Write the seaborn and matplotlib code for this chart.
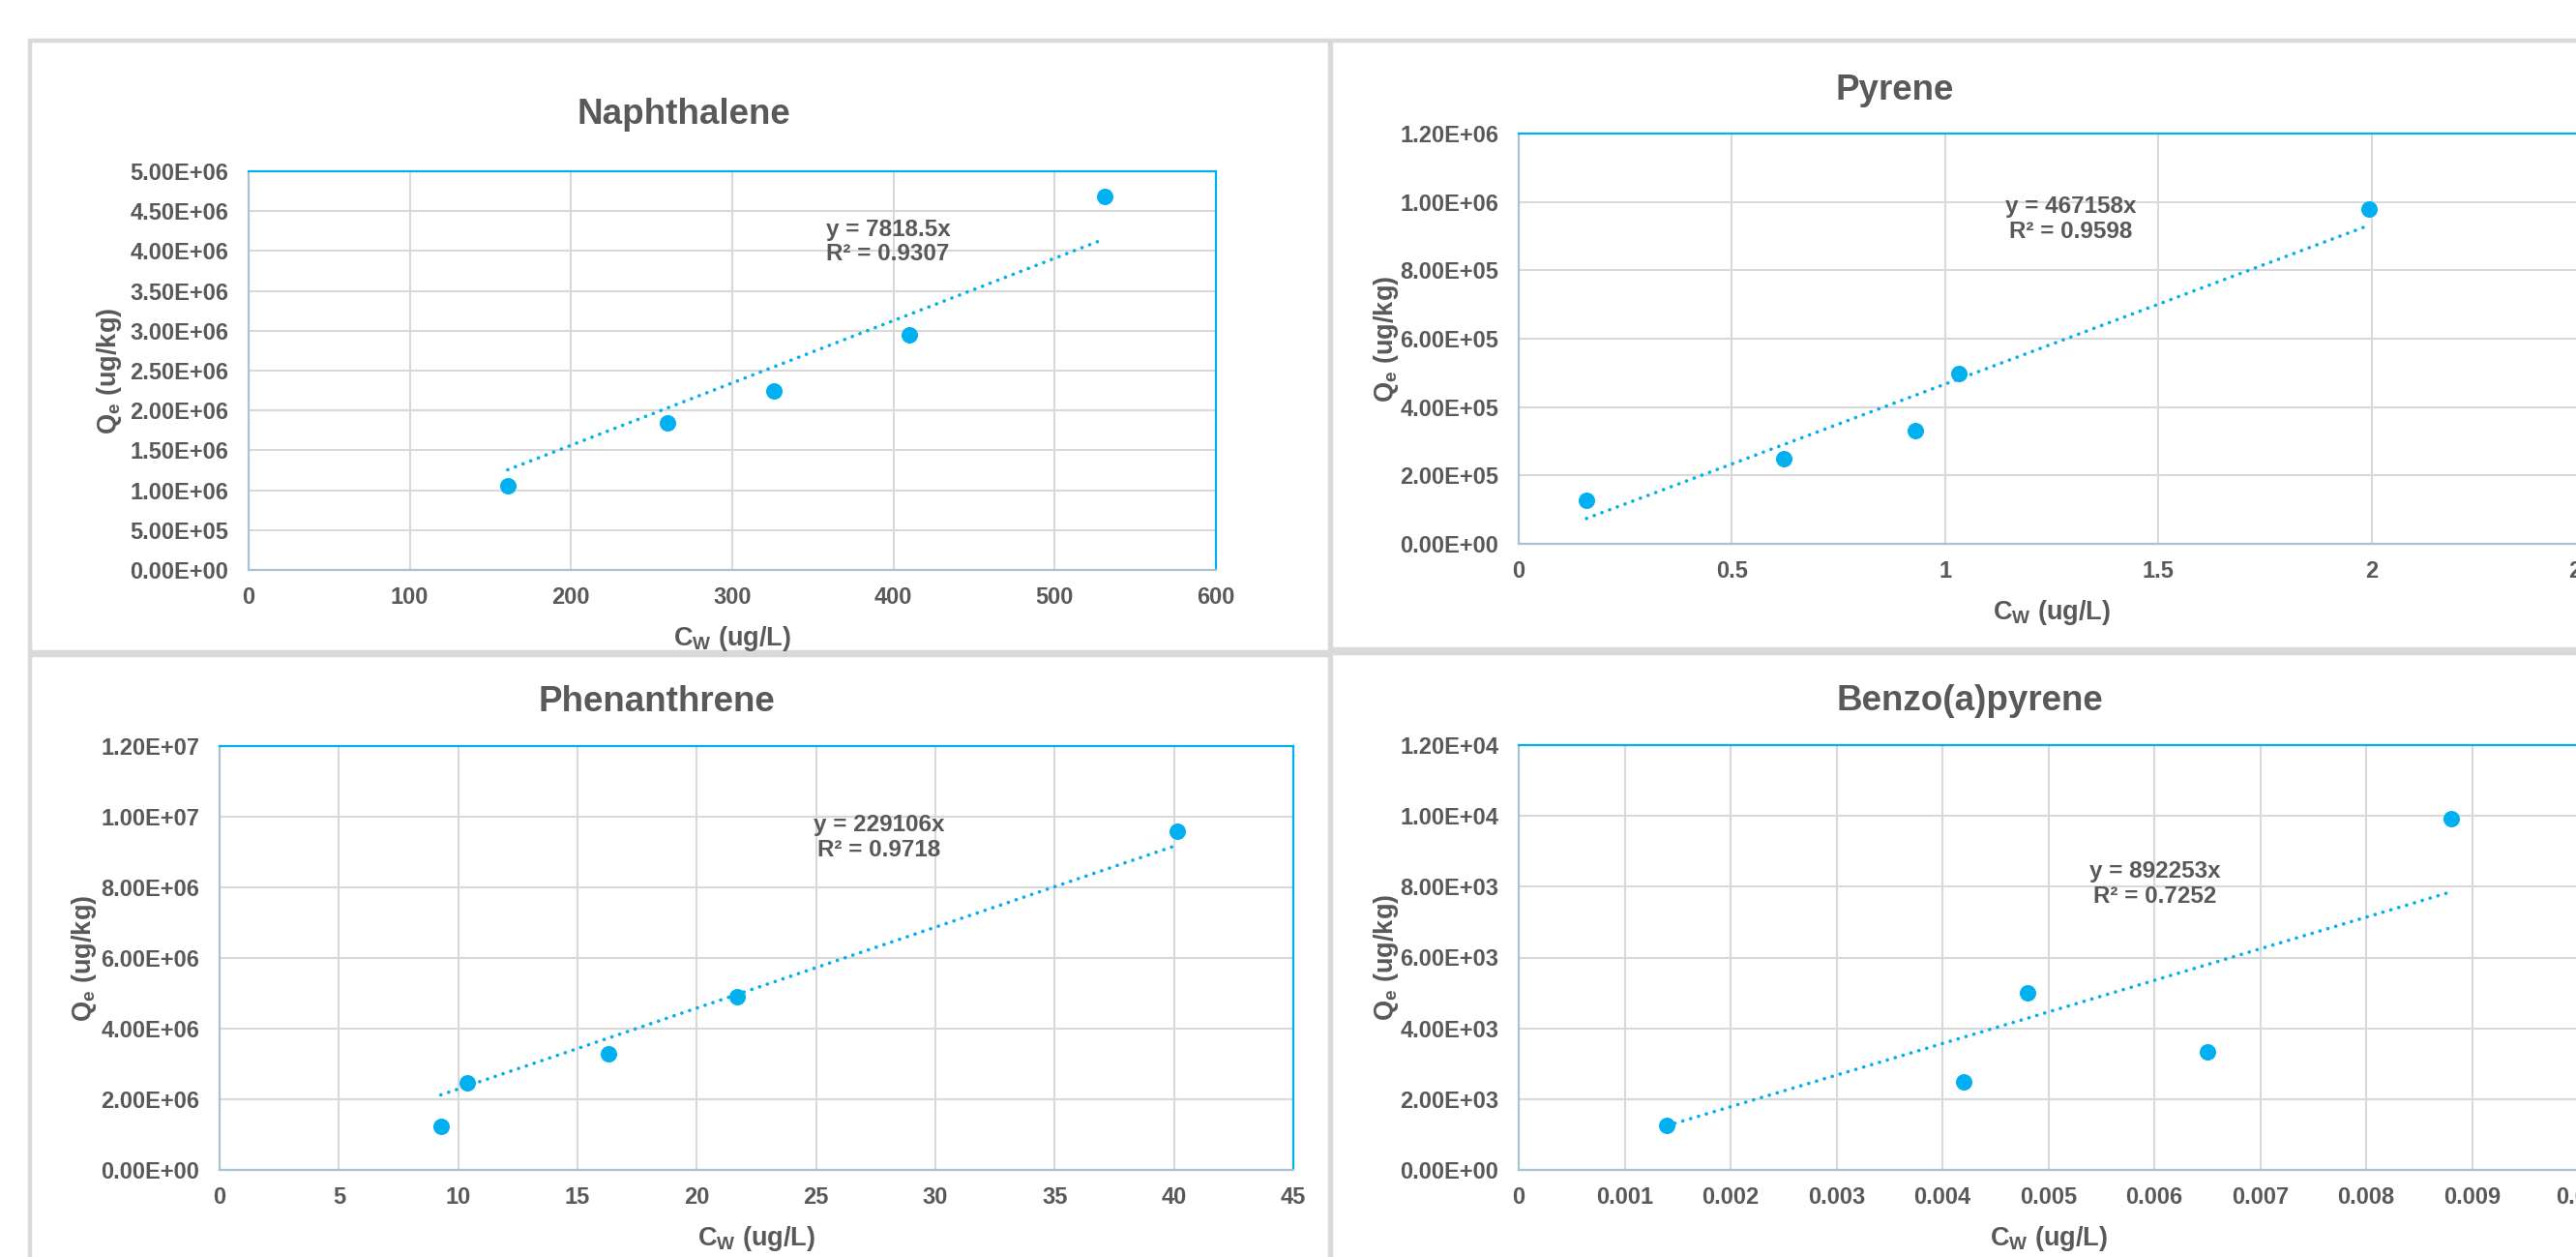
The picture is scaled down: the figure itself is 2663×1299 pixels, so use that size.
import numpy as np
import pandas as pd
import matplotlib
matplotlib.use("Agg")
import matplotlib.pyplot as plt
import matplotlib.ticker as mticker
from matplotlib.patches import Rectangle
import seaborn as sns

W, H = 2663, 1299
BLUE = "#00B0F0"
GRAY = "#595959"
GRID = "#D9D9D9"

# Naphthalene isotherm (Cw ug/L, Qe ug/kg)
naph_cw = [160.7, 259.8, 325.7, 409.8, 530.8]
naph_qe = [1.053e6, 1.847e6, 2.242e6, 2.953e6, 4.689e6]
naph_k, naph_r2 = 7818.5, 0.9307

# Pyrene
pyr_cw = [0.159, 0.622, 0.931, 1.032, 1.993]
pyr_qe = [1.26e5, 2.49e5, 3.31e5, 4.98e5, 9.80e5]
pyr_k, pyr_r2 = 467158, 0.9598

# Phenanthrene
phen_cw = [9.27, 10.39, 16.29, 21.69, 40.12]
phen_qe = [1.24e6, 2.47e6, 3.28e6, 4.90e6, 9.58e6]
phen_k, phen_r2 = 229106, 0.9718

# Benzo(a)pyrene
bap_cw = [0.0014, 0.0042, 0.0048, 0.0065, 0.0088]
bap_qe = [1.247e3, 2.49e3, 4.99e3, 3.33e3, 9.92e3]
bap_k, bap_r2 = 892253, 0.7252

sns.set_style("white")
plt.rcParams["font.family"] = ["Liberation Sans", "DejaVu Sans"]
plt.rcParams["font.weight"] = "bold"
plt.rcParams["mathtext.fontset"] = "custom"
plt.rcParams["mathtext.rm"] = "Liberation Sans:bold"
plt.rcParams["mathtext.bf"] = "Liberation Sans:bold"

PX = 72 / 100  # pixels -> points at dpi 100

fig = plt.figure(figsize=(W / 100, H / 100), dpi=100, facecolor="white")

# chart frames (Excel chart areas), some run off the screenshot
frames = [(31, 41.5, 1374.5, 673.5), (1376, 41.5, 2800, 671),
          (31, 676.5, 1374.5, 1400), (1376, 674.5, 2800, 1400)]
for x0, y0, x1, y1 in frames:
    fig.add_artist(Rectangle((x0 / W, 1 - y1 / H), (x1 - x0) / W, (y1 - y0) / H,
                             transform=fig.transFigure, fill=False,
                             ec=GRID, lw=3.2, zorder=0))

charts = [
    dict(name="Naphthalene", cw=naph_cw, qe=naph_qe, k=naph_k, r2=naph_r2,
         box=(257, 177, 1257, 589), xmax=600, xstep=100, ymax=5e6, ystep=5e5,
         title=(707, 128), eq=(0.661, 0.823), ylab=137),
    dict(name="Pyrene", cw=pyr_cw, qe=pyr_qe, k=pyr_k, r2=pyr_r2,
         box=(1570, 138, 2672, 562), xmax=2.5, xstep=0.5, ymax=1.2e6, ystep=2e5,
         title=(1959, 103), eq=(0.518, 0.792), ylab=130),
    dict(name="Phenanthrene", cw=phen_cw, qe=phen_qe, k=phen_k, r2=phen_r2,
         box=(227, 771, 1337, 1209), xmax=45, xstep=5, ymax=1.2e7, ystep=2e6,
         title=(679, 735), eq=(0.614, 0.784), ylab=133),
    dict(name="Benzo(a)pyrene", cw=bap_cw, qe=bap_qe, k=bap_k, r2=bap_r2,
         box=(1570, 770, 2665, 1209), xmax=0.01, xstep=0.001, ymax=1.2e4, ystep=2e3,
         title=(2036, 734), eq=(0.601, 0.673), ylab=130),
]

for c in charts:
    l, t, r, b = c["box"]
    ax = fig.add_axes([l / W, 1 - b / H, (r - l) / W, (b - t) / H])
    df = pd.DataFrame({"cw": c["cw"], "qe": c["qe"]})

    # linear trendline through origin, from first to last point
    fit_x = np.array([df["cw"].min(), df["cw"].max()])
    fit = pd.DataFrame({"cw": fit_x, "qe": c["k"] * fit_x})

    sns.scatterplot(data=df, x="cw", y="qe", ax=ax, color=BLUE, s=150,
                    linewidth=0, zorder=3)
    sns.lineplot(data=fit, x="cw", y="qe", ax=ax, color=BLUE, lw=2.6,
                 linestyle=(0, (0.05, 2.3)), dash_capstyle="round", zorder=4)

    ax.set_xlim(0, c["xmax"])
    ax.set_ylim(0, c["ymax"])
    ax.xaxis.set_major_locator(mticker.MultipleLocator(c["xstep"]))
    ax.yaxis.set_major_locator(mticker.MultipleLocator(c["ystep"]))
    ax.xaxis.set_major_formatter(mticker.FuncFormatter(lambda v, p: f"{v:g}"))
    ax.yaxis.set_major_formatter(mticker.FuncFormatter(lambda v, p: f"{v:.2E}"))
    ax.tick_params(length=0, labelsize=17, colors=GRAY)
    ax.tick_params(axis="x", pad=12)
    ax.tick_params(axis="y", pad=15)
    for lab in ax.get_xticklabels() + ax.get_yticklabels():
        lab.set_fontweight("bold")

    ax.set_axisbelow(True)
    ax.grid(True, color=GRID, lw=1.5)
    for side in ["top", "right"]:
        ax.spines[side].set_color(BLUE)
        ax.spines[side].set_linewidth(1.6)
    for side in ["left", "bottom"]:
        ax.spines[side].set_color("#A9C3D1")
        ax.spines[side].set_linewidth(1.6)

    ax.set_xlabel("")
    ax.set_ylabel("")
    ax.annotate(r"C$_\mathbf{W}$ (ug/L)", xy=(0.5, 0), xycoords="axes fraction",
                xytext=(0, -78 * PX), textcoords="offset points",
                ha="center", va="baseline", fontsize=19.5, color=GRAY,
                fontweight="bold", annotation_clip=False)
    ax.annotate(r"Q$_\mathbf{e}$ (ug/kg)", xy=(0, 0.5), xycoords="axes fraction",
                xytext=(-c["ylab"] * PX, 0), textcoords="offset points",
                rotation=90, rotation_mode="anchor", ha="center", va="baseline",
                fontsize=19.5, color=GRAY, fontweight="bold", annotation_clip=False)

    ax.text(c["eq"][0], c["eq"][1], f"y = {c['k']:g}x\nR² = {c['r2']:.4f}",
            transform=ax.transAxes, ha="center", va="center", multialignment="center",
            fontsize=17.5, color=GRAY, fontweight="bold", linespacing=1.15)

    tx, ty = c["title"]
    fig.text(tx / W, 1 - ty / H, c["name"], ha="center", va="baseline",
             fontsize=26.5, fontweight="bold", color=GRAY)

fig.savefig("out.png", dpi=100, facecolor="white")
